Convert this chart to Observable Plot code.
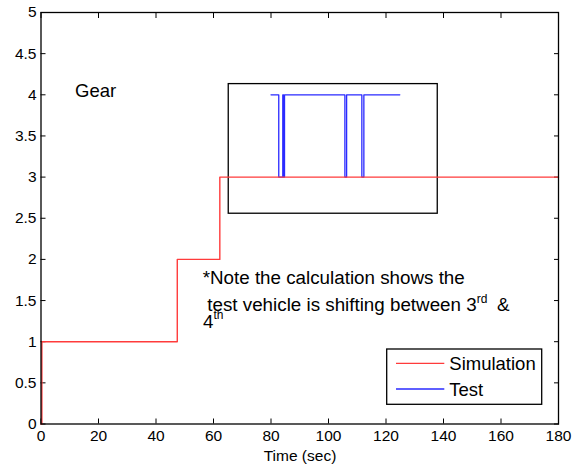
<!DOCTYPE html>
<html>
<head>
<meta charset="utf-8">
<script src="https://cdn.jsdelivr.net/npm/d3@7"></script>
<script src="https://cdn.jsdelivr.net/npm/@observablehq/plot@0.6"></script>
<style>
  html, body { margin: 0; padding: 0; background: #fff; }
  svg { display: block; }
</style>
</head>
<body>
<div id="chart"></div>
<script>
// Simulation gear (step changes: time, gear)
const simTime = [0, 0.3, 47.4, 62.2, 180];
const simGear = [0, 1, 2, 3, 3];
// Test gear (step changes: time, gear)
const testTime = [80, 82.7, 84.1, 84.4, 84.7, 105.7, 106.3, 111.6, 112.3, 124.8];
const testGear = [4, 3, 4, 3, 4, 3, 4, 3, 4, 4];
// Annotation box around test data (x1, x2, y1, y2 in data units)
const insetBox = [{x1: 65.3, x2: 138, y1: 2.555, y2: 4.13}];
// Ticks
const xTicks = [0, 20, 40, 60, 80, 100, 120, 140, 160, 180];
const yTicks = [0, 0.5, 1, 1.5, 2, 2.5, 3, 3.5, 4, 4.5, 5];
const seriesNames = ["Simulation", "Test"];
const seriesColors = ["#ff3b3b", "#2a2aff"];

const sim = simTime.map((t, i) => ({t, g: simGear[i]}));
const test = testTime.map((t, i) => ({t, g: testGear[i]}));

const W = 585, H = 466;
const font = "'Liberation Sans', Arial, Helvetica, sans-serif";

const plot = Plot.plot({
  width: W,
  height: H,
  marginLeft: 40.5,
  marginRight: 27,
  marginTop: 12,
  marginBottom: 42.5,
  style: {fontFamily: font, fontSize: "15.5px", color: "#000", background: "#fff"},
  x: {domain: [0, 180]},
  y: {domain: [0, 5]},
  marks: [
    Plot.axisX(xTicks, {tickSize: 0, tickPadding: 5.5, label: null, fontSize: 15.5}),
    Plot.axisY(yTicks, {tickSize: 0, tickPadding: 4.5, label: null, fontSize: 15.5, tickFormat: d => String(d)}),
    Plot.axisX(xTicks, {anchor: "bottom", tickSize: 5, dy: -5, fill: null, label: null, stroke: "#000"}),
    Plot.axisX(xTicks, {anchor: "top", tickSize: 5, dy: 5, fill: null, label: null, stroke: "#000"}),
    Plot.axisY(yTicks, {anchor: "left", tickSize: 5, dx: 5, fill: null, label: null, stroke: "#000"}),
    Plot.axisY(yTicks, {anchor: "right", tickSize: 5, dx: -5, fill: null, label: null, stroke: "#000"}),
    Plot.rect(insetBox, {x1: "x1", x2: "x2", y1: "y1", y2: "y2", fill: "none", stroke: "#000", strokeWidth: 1.3}),
    Plot.line(test, {x: "t", y: "g", curve: "step-after", stroke: seriesColors[1], strokeWidth: 1.3}),
    Plot.line(sim, {x: "t", y: "g", curve: "step-after", stroke: seriesColors[0], strokeWidth: 1.4}),
    Plot.frame({stroke: "#000", strokeWidth: 1.3})
  ]
});

document.getElementById("chart").appendChild(plot);

const svg = d3.select(plot);

svg.append("text")
  .attr("x", 300).attr("y", 461)
  .attr("text-anchor", "middle")
  .style("font-family", font).style("font-size", "15.5px")
  .text("Time (sec)");

svg.append("text")
  .attr("x", 75).attr("y", 97)
  .attr("text-anchor", "start")
  .style("font-family", font).style("font-size", "18.5px")
  .text("Gear");

const note = svg.append("g").style("font-family", font).style("font-size", "18.8px")
  .attr("fill", "#000").attr("text-anchor", "start");
note.append("text").attr("x", 202.7).attr("y", 284).attr("text-anchor", "start").text("*Note the calculation shows the");
const l2 = note.append("text").attr("x", 207.3).attr("y", 310.5).attr("text-anchor", "start");
l2.append("tspan").text("test vehicle is shifting between 3");
l2.append("tspan").attr("dy", -8).style("font-size", "12px").text("rd");
l2.append("tspan").attr("x", 497).attr("dy", 8).text("&");
const l3 = note.append("text").attr("x", 203).attr("y", 328).attr("text-anchor", "start");
l3.append("tspan").text("4");
l3.append("tspan").attr("dy", -9).style("font-size", "12px").text("th");

const lg = svg.append("g").style("font-family", font).style("font-size", "18.5px").attr("text-anchor", "start");
lg.append("rect").attr("x", 386.7).attr("y", 349).attr("width", 155).attr("height", 55.3)
  .attr("fill", "#fff").attr("stroke", "#000").attr("stroke-width", 1.3);
const legY = [363.3, 389];
seriesNames.forEach((name, i) => {
  lg.append("line").attr("x1", 396).attr("x2", 444.3).attr("y1", legY[i]).attr("y2", legY[i])
    .attr("stroke", seriesColors[i]).attr("stroke-width", 1.3);
  lg.append("text").attr("x", 449.3).attr("y", legY[i] + 6.5).attr("text-anchor", "start").text(name);
});
</script>
</body>
</html>
